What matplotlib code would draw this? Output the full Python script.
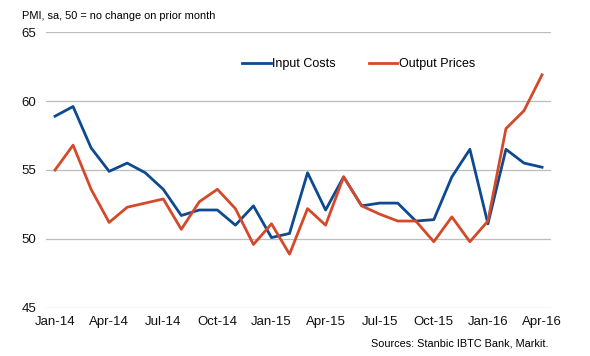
import matplotlib
matplotlib.use("Agg")
import matplotlib.pyplot as plt
import numpy as np

plt.rcParams['font.family'] = ['Liberation Sans', 'DejaVu Sans']

months = ["Jan-14", "Feb-14", "Mar-14", "Apr-14", "May-14", "Jun-14", "Jul-14",
          "Aug-14", "Sep-14", "Oct-14", "Nov-14", "Dec-14", "Jan-15", "Feb-15",
          "Mar-15", "Apr-15", "May-15", "Jun-15", "Jul-15", "Aug-15", "Sep-15",
          "Oct-15", "Nov-15", "Dec-15", "Jan-16", "Feb-16", "Mar-16", "Apr-16"]

input_costs = [58.9, 59.6, 56.6, 54.9, 55.5, 54.8, 53.6,
               51.7, 52.1, 52.1, 51.0, 52.4, 50.1, 50.4,
               54.8, 52.1, 54.5, 52.4, 52.6, 52.6, 51.3,
               51.4, 54.5, 56.5, 51.1, 56.5, 55.5, 55.2]

output_prices = [55.0, 56.8, 53.6, 51.2, 52.3, 52.6, 52.9,
                 50.7, 52.7, 53.6, 52.2, 49.6, 51.1, 48.9,
                 52.2, 51.0, 54.5, 52.4, 51.8, 51.3, 51.3,
                 49.8, 51.6, 49.8, 51.3, 58.0, 59.3, 61.9]

yticks = [45, 50, 55, 60, 65]

fig = plt.figure(figsize=(5.9, 3.56), dpi=100)
ax = fig.add_axes([0.078, 0.135, 0.856, 0.775])

x = np.arange(len(months))
ax.plot(x, input_costs, color="#0d4a8f", lw=2.0, label="Input Costs")
ax.plot(x, output_prices, color="#d5492b", lw=2.0, label="Output Prices")

ax.set_xlim(-0.5, len(months) - 0.5)
ax.set_ylim(45, 65)
ax.set_yticks(yticks)
ax.set_xticks(x[::3])
ax.set_xticklabels(months[::3])
ax.tick_params(axis="both", length=0, labelsize=9.5, colors="#111111")
ax.tick_params(axis="y", pad=7)
ax.tick_params(axis="x", pad=6)
ax.grid(axis="y", color="#bdbdbd", lw=0.9)
ax.set_axisbelow(True)
for s in ax.spines.values():
    s.set_visible(False)

ax.legend(loc="center", bbox_to_anchor=(0.619, 0.884), ncol=2, frameon=False,
          fontsize=9, handlelength=2.3, handletextpad=0.15, columnspacing=2.6)

fig.text(0.037, 0.955, "PMI, sa, 50 = no change on prior month", fontsize=7.9,
         va="center", ha="left")
fig.text(0.929, 0.035, "Sources: Stanbic IBTC Bank, Markit.", fontsize=7.8,
         va="center", ha="right")

fig.savefig("out.png", dpi=100)
